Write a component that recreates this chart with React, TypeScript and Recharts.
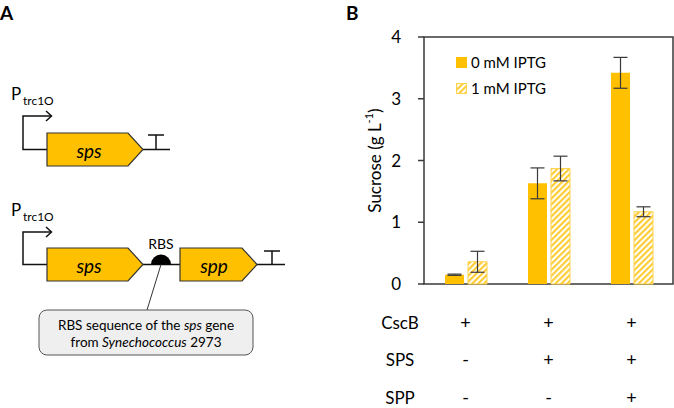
import React from 'react';
import { BarChart, Bar, XAxis, YAxis, ErrorBar, Legend, Customized, Label } from 'recharts';

const categories = ['CscB', 'CscB+SPS', 'CscB+SPS+SPP'];
const iptg0 = [0.15, 1.63, 3.42];
const iptg0Err = [0.01, 0.25, 0.25];
const iptg1 = [0.36, 1.87, 1.17];
const iptg1Err = [0.17, 0.2, 0.08];
const rowLabels = ['CscB', 'SPS', 'SPP'];
const cscBRow = ['+', '+', '+'];
const spsRow = ['-', '+', '+'];
const sppRow = ['-', '-', '+'];
const yTicks = [0, 1, 2, 3, 4];
const yDomain = [0, 4];
const seriesNames = ['0 mM IPTG', '1 mM IPTG'];

const rows = [cscBRow, spsRow, sppRow];
const data = categories.map((c, i) => ({ cat: c, v0: iptg0[i], e0: iptg0Err[i], v1: iptg1[i], e1: iptg1Err[i] }));

const GOLD = '#FFC000';
const HATCH = '#FFCB2E';
const AXIS = '#3a3a3a';
const FONT = 'Lato, "Open Sans", sans-serif';
const ROW_DY = [38, 75, 113];

const XTick = (props: any) => {
  const { x, y, index } = props;
  return (
    <g>
      {rows.map((r, k) => (
        <text key={k} x={x} y={y + ROW_DY[k]} textAnchor="middle" dominantBaseline="central"
          fontFamily={FONT} fontSize={18} fill="#000">{r[index]}</text>
      ))}
    </g>
  );
};

const YLabel = (props: any) => {
  const vb = props.viewBox || { x: 0, y: 0, width: 0, height: 0 };
  const cx = vb.x + 10;
  const cy = vb.y + vb.height / 2;
  return (
    <text x={cx} y={cy} transform={`rotate(-90 ${cx} ${cy})`} textAnchor="middle" dominantBaseline="central"
      fontFamily={FONT} fontSize={17} fill="#000">
      Sucrose (g L<tspan fontSize={11} dy={-6}>-1</tspan><tspan dy={6}>)</tspan>
    </text>
  );
};

const LegendContent = () => (
  <div style={{ fontFamily: FONT, fontSize: 15, color: '#000' }}>
    {seriesNames.map((n, i) => (
      <div key={n} style={{ display: 'flex', alignItems: 'center', height: 26 }}>
        <svg width={11} height={11} style={{ marginRight: 4 }}>
          <rect x={0.5} y={0.5} width={10} height={10} fill={i === 0 ? GOLD : 'url(#hatch)'} stroke={i === 0 ? GOLD : '#FFD34D'} strokeWidth={1} />
        </svg>
        <span>{n}</span>
      </div>
    ))}
  </div>
);

const Gene = ({ x0, x1, tip, cy, label, lx }: any) => (
  <g>
    <polygon points={`${x0},${cy - 16.5} ${x1},${cy - 16.5} ${tip},${cy} ${x1},${cy + 16.5} ${x0},${cy + 16.5}`}
      fill={GOLD} stroke="#333" strokeWidth={1.2} />
    <text x={lx} y={cy + 1} textAnchor="middle" dominantBaseline="central" fontFamily={FONT}
      fontStyle="italic" fontSize={19} fill="#000">{label}</text>
  </g>
);

const Promoter = ({ cy, top }: any) => (
  <g>
    <text x={11} y={top - 16} fontFamily={FONT} fontSize={17} fill="#000">P</text>
    <text x={23} y={top - 11} fontFamily={FONT} fontSize={12} fill="#000">trc1O</text>
    <path d={`M 47 ${cy} H 23 V ${top} H 51`} fill="none" stroke="#111" strokeWidth={1.5} />
    <path d={`M 46 ${top - 5} L 51.5 ${top} L 46 ${top + 5}`} fill="none" stroke="#111" strokeWidth={1.5} />
  </g>
);

const Terminator = ({ x, cy, top }: any) => (
  <g>
    <path d={`M ${x} ${cy} V ${top} M ${x - 8} ${top} H ${x + 8}`} fill="none" stroke="#111" strokeWidth={1.5} />
  </g>
);

const PanelA = () => (
  <g>
    <defs>
      <pattern id="hatch" patternUnits="userSpaceOnUse" width={4.2} height={4.2} patternTransform="rotate(45)">
        <rect x={0} y={0} width={4.2} height={4.2} fill="#fff" />
        <line x1={1.1} y1={0} x2={1.1} y2={4.2} stroke={HATCH} strokeWidth={2.1} />
      </pattern>
    </defs>
    <text x={0} y={20} fontFamily={FONT} fontWeight="bold" fontSize={19} fill="#000">A</text>
    <text x={346} y={20} fontFamily={FONT} fontWeight="bold" fontSize={19} fill="#000">B</text>

    <Promoter cy={149.5} top={116} />
    <path d="M 143 149.5 H 170" stroke="#111" strokeWidth={1.5} />
    <Gene x0={47} x1={128} tip={143} cy={149.5} label="sps" lx={89} />
    <Terminator x={156} cy={149.5} top={135} />

    <Promoter cy={264.5} top={232} />
    <path d="M 143 264.5 H 285" stroke="#111" strokeWidth={1.5} />
    <Gene x0={47} x1={128} tip={143} cy={264.5} label="sps" lx={89} />
    <path d="M 151 264.5 A 10 10 0 0 1 171 264.5 Z" fill="#000" />
    <text x={161} y={249} textAnchor="middle" fontFamily={FONT} fontSize={14} fill="#000">RBS</text>
    <Gene x0={180} x1={242} tip={257} cy={264.5} label="spp" lx={214} />
    <Terminator x={272} cy={264.5} top={251} />

    <path d="M 161 264.5 L 147 310" stroke="#333" strokeWidth={1} />
    <rect x={39} y={310} width={214} height={45} rx={8} ry={8} fill="#efefef" stroke="#555" strokeWidth={1} />
    <text x={146} y={325} textAnchor="middle" dominantBaseline="central" fontFamily={FONT} fontSize={13.5} fill="#000">
      RBS sequence of the <tspan fontStyle="italic">sps</tspan> gene
    </text>
    <text x={146} y={342} textAnchor="middle" dominantBaseline="central" fontFamily={FONT} fontSize={13.5} fill="#000">
      from <tspan fontStyle="italic">Synechococcus</tspan> 2973
    </text>
  </g>
);

// Plot frame (box) and y tick marks, placed from the chart's plot offset and y domain
const Frame = (props: any) => {
  const off = props.offset || {};
  const x0 = typeof off.left === 'number' ? off.left : 424;
  const y0 = typeof off.top === 'number' ? off.top : 37;
  const w = typeof off.width === 'number' ? off.width : 673 - x0;
  const h = typeof off.height === 'number' ? off.height : 284 - y0;
  const x1 = x0 + w;
  const y1 = y0 + h;
  const yOf = (v: number) => y0 + h * (1 - (v - yDomain[0]) / (yDomain[1] - yDomain[0]));
  return (
    <g>
      <path d={`M ${x0} ${y0} H ${x1} V ${y1} H ${x0} Z`} fill="none" stroke={AXIS} strokeWidth={1.5} />
      {yTicks.map((v) => (
        <path key={v} d={`M ${x0 - 6} ${yOf(v)} H ${x0}`} fill="none" stroke={AXIS} strokeWidth={1.5} />
      ))}
    </g>
  );
};

const RowLabels = (props: any) => {
  const off = props.offset || { left: 424, top: 37, height: 247 };
  const base = off.top + off.height;
  return (
    <g>
      {rowLabels.map((l, k) => (
        <text key={l} x={off.left - 24} y={base + ROW_DY[k]} textAnchor="middle" dominantBaseline="central"
          fontFamily={FONT} fontSize={17} fill="#000">{l}</text>
      ))}
    </g>
  );
};

export default function App() {
  return (
    <div style={{ position: 'absolute', left: 0, top: 0, width: 674, height: 408, background: '#fff' }}>
      <BarChart width={674} height={408} data={data}
        margin={{ top: 37, right: 1, bottom: 123, left: 364 }}
        barSize={19} barGap={4}>
        <Customized component={PanelA} />
        <XAxis dataKey="cat" height={1} tickSize={0} tickMargin={0} tickLine={false} axisLine={false}
          tick={<XTick />} interval={0} />
        <YAxis domain={yDomain} ticks={yTicks} width={60} tickSize={6} tickMargin={17}
          axisLine={false} tickLine={false} tick={{ fontFamily: FONT, fontSize: 17, fill: '#000' }}>
          <Label content={<YLabel />} />
        </YAxis>
        <Legend layout="vertical" align="center" verticalAlign="middle" content={<LegendContent />}
          wrapperStyle={{ position: 'absolute', left: 456, top: 49, width: 140 }} />
        <Bar dataKey="v0" name={seriesNames[0]} fill={GOLD} isAnimationActive={false}>
          <ErrorBar dataKey="e0" width={7} stroke={AXIS} strokeWidth={1.2} />
        </Bar>
        <Bar dataKey="v1" name={seriesNames[1]} fill="url(#hatch)" stroke="#FFD34D" strokeWidth={1} isAnimationActive={false}>
          <ErrorBar dataKey="e1" width={7} stroke={AXIS} strokeWidth={1.2} />
        </Bar>
        <Customized component={Frame} />
        <Customized component={RowLabels} />
      </BarChart>
    </div>
  );
}
